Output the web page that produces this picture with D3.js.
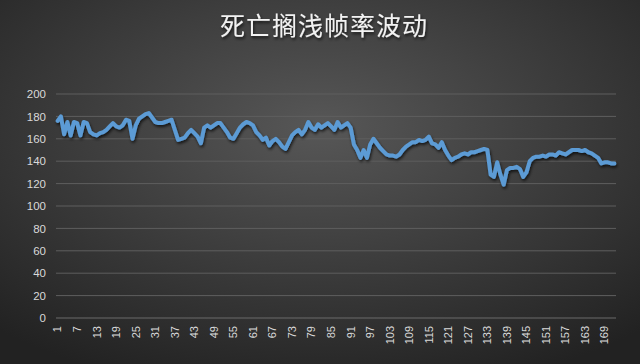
<!DOCTYPE html>
<html>
<head>
<meta charset="utf-8">
<script src="https://cdn.jsdelivr.net/npm/d3@7"></script>
<style>
  html, body { margin: 0; padding: 0; background: #2b2b2b; }
  svg { display: block; }
</style>
</head>
<body>
<svg id="chart"></svg>
<script>
// 死亡搁浅 frame rate samples
const title = "死亡搁浅帧率波动";
const frameRates = [
  176, 180, 164, 175, 163, 175, 174, 163, 175, 174,
  166, 164, 163, 165, 166, 168, 171, 174, 171, 170,
  172, 177, 176, 160, 172, 178, 180, 182, 183, 179,
  175, 174, 174, 175, 176, 177, 168, 159, 160, 161,
  165, 168, 165, 162, 156, 170, 172, 170, 172, 174,
  174, 170, 166, 161, 160, 165, 170, 173, 175, 174,
  172, 166, 163, 159, 161, 154, 158, 160, 157, 153,
  151, 157, 163, 166, 168, 164, 168, 175, 170, 168,
  173, 170, 172, 174, 171, 168, 175, 170, 172, 174,
  170, 155, 150, 143, 150, 143, 155, 160, 156, 152,
  149, 146, 145, 145, 144, 146, 150, 153, 155, 157,
  157, 159, 158, 159, 162, 156, 155, 152, 157, 150,
  145, 141, 143, 144, 146, 147, 146, 148, 148, 149,
  150, 151, 150, 128, 126, 139, 128, 119, 132, 134,
  134, 135, 133, 126, 130, 140, 143, 144, 144, 145,
  144, 146, 146, 145, 148, 147, 146, 148, 150, 150,
  150, 149, 150, 148, 147, 145, 143, 138, 139, 139,
  138, 138
];
const frames = frameRates.map((d, i) => i + 1);
const yTicks = [0, 20, 40, 60, 80, 100, 120, 140, 160, 180, 200];

const width = 640, height = 364;
const margin = { top: 94, right: 24, bottom: 46, left: 56 };

const svg = d3.select("#chart")
    .attr("width", width)
    .attr("height", height);

// background, lighter in the middle, darker to the corners
const defs = svg.append("defs");
const bg = defs.append("radialGradient")
    .attr("id", "bg")
    .attr("cx", "50%").attr("cy", "35%").attr("r", "75%");
bg.append("stop").attr("offset", "0%").attr("stop-color", "#575757");
bg.append("stop").attr("offset", "100%").attr("stop-color", "#222222");

const shadow = defs.append("filter")
    .attr("id", "shadow")
    .attr("x", "-5%").attr("y", "-20%").attr("width", "110%").attr("height", "140%");
shadow.append("feDropShadow")
    .attr("dx", 1).attr("dy", 2).attr("stdDeviation", 1.5)
    .attr("flood-color", "#000").attr("flood-opacity", 0.7);

svg.append("rect")
    .attr("width", width).attr("height", height)
    .attr("fill", "url(#bg)");

// title
svg.append("text")
    .attr("x", 324)
    .attr("y", 35)
    .attr("text-anchor", "middle")
    .attr("fill", "#f2f2f2")
    .attr("filter", "url(#shadow)")
    .style("font-family", "'Noto Sans CJK SC', sans-serif")
    .style("font-size", "25px")
    .style("letter-spacing", "1px")
    .text(title);

const chart = svg.append("g")
    .attr("transform", `translate(${margin.left},${margin.top})`);

const innerW = width - margin.left - margin.right;
const innerH = 318 - margin.top;

// scales
const x = d3.scaleBand()
    .domain(frames)
    .range([0, innerW])
    .padding(0);

const y = d3.scaleLinear()
    .domain([0, 200])
    .range([innerH, 0]);

// gridlines
chart.append("g")
    .selectAll("line")
    .data(yTicks)
    .join("line")
    .attr("x1", 0)
    .attr("x2", innerW)
    .attr("y1", d => y(d))
    .attr("y2", d => y(d))
    .attr("stroke", d => d === 0 ? "#6a6a6a" : "#5e5e5e")
    .attr("stroke-width", 1);

// y axis labels
const yAxis = chart.append("g")
    .call(d3.axisLeft(y).tickValues(yTicks).tickSize(0).tickPadding(10));
yAxis.select(".domain").remove();
yAxis.selectAll("text")
    .attr("fill", "#d9d9d9")
    .style("font-family", "'Liberation Sans', Arial, sans-serif")
    .style("font-size", "11.5px");

// x axis labels, every 6th frame, rotated
const xAxis = chart.append("g")
    .attr("transform", `translate(0,${innerH})`)
    .call(d3.axisBottom(x)
        .tickValues(frames.filter(d => (d - 1) % 6 === 0))
        .tickSize(0));
xAxis.select(".domain").remove();
xAxis.selectAll("text")
    .attr("fill", "#d9d9d9")
    .attr("transform", "rotate(-90)")
    .attr("text-anchor", "end")
    .attr("x", -8)
    .attr("y", 0)
    .attr("dy", "0.35em")
    .style("font-family", "'Liberation Sans', Arial, sans-serif")
    .style("font-size", "11px");

// line
const line = d3.line()
    .x((d, i) => x(frames[i]) + x.bandwidth() / 2)
    .y(d => y(d));

chart.append("path")
    .datum(frameRates)
    .attr("fill", "none")
    .attr("stroke", "#5b9bd5")
    .attr("stroke-width", 4)
    .attr("stroke-linejoin", "round")
    .attr("stroke-linecap", "round")
    .attr("filter", "url(#shadow)")
    .attr("d", line);
</script>
</body>
</html>
